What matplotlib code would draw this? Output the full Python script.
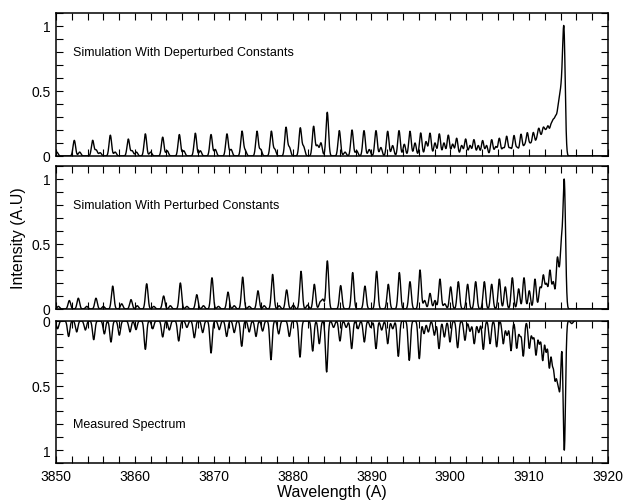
import numpy as np
import matplotlib
matplotlib.use('Agg')
import matplotlib.pyplot as plt
from matplotlib.ticker import MultipleLocator

plt.rcParams['font.family'] = ['Liberation Sans', 'DejaVu Sans']

# line positions (A) and peak heights
depert_pos = [3850.1, 3852.32, 3853.0, 3854.65, 3855.1, 3855.6, 3856.89, 3857.5, 3859.17, 3859.65,
              3860.2, 3861.33, 3862.0, 3863.53, 3864.1, 3865.64, 3866.2, 3867.67, 3868.3, 3869.66,
              3870.2, 3871.68, 3872.2, 3873.59, 3874.0, 3875.49, 3875.95, 3877.31, 3877.75, 3879.17,
              3879.6, 3880.98, 3881.4, 3882.67, 3883.15, 3883.6, 3884.40, 3885.93, 3886.65, 3887.54,
              3888.13, 3889.06, 3889.73, 3890.58, 3891.2, 3892.06, 3892.69, 3893.50, 3894.17, 3894.89,
              3895.53, 3896.25, 3896.92, 3897.43, 3898.06, 3898.61, 3899.2, 3899.75, 3900.3, 3900.81,
              3901.44, 3901.95, 3902.5, 3903.00, 3903.55, 3904.10, 3904.6, 3905.25, 3905.76, 3906.22,
              3906.7, 3907.15, 3907.6, 3908.08, 3908.5, 3908.97, 3909.4, 3909.77, 3910.15, 3910.53,
              3910.9, 3911.21, 3911.5, 3911.80, 3912.1, 3912.4, 3912.75, 3913.05, 3913.35, 3913.65,
              3913.9, 3914.15, 3914.42]
depert_amp = [0.03, 0.12, 0.03, 0.12, 0.045, 0.025, 0.16, 0.03, 0.13, 0.04,
              0.03, 0.17, 0.03, 0.145, 0.04, 0.165, 0.04, 0.175, 0.04, 0.165,
              0.05, 0.17, 0.05, 0.19, 0.04, 0.19, 0.05, 0.19, 0.05, 0.22,
              0.065, 0.215, 0.07, 0.228, 0.08, 0.1, 0.336, 0.195, 0.03, 0.2,
              0.04, 0.195, 0.05, 0.195, 0.065, 0.19, 0.08, 0.195, 0.09, 0.19,
              0.1, 0.177, 0.11, 0.175, 0.1, 0.17, 0.1, 0.16, 0.09, 0.136,
              0.08, 0.13, 0.08, 0.125, 0.08, 0.118, 0.08, 0.125, 0.07, 0.135,
              0.06, 0.15, 0.06, 0.155, 0.06, 0.165, 0.07, 0.17, 0.08, 0.17,
              0.09, 0.18, 0.1, 0.18, 0.14, 0.19, 0.19, 0.21, 0.23, 0.25,
              0.3, 0.36, 0.9]

pert_pos = [3850.3, 3851.69, 3852.83, 3853.9, 3855.07, 3856.0, 3857.19, 3858.33, 3859.51, 3860.3,
            3861.50, 3862.4, 3863.65, 3864.5, 3865.77, 3866.6, 3867.85, 3868.7, 3869.78, 3870.6,
            3871.81, 3872.6, 3873.67, 3874.5, 3875.61, 3876.4, 3877.47, 3878.3, 3879.25, 3880.1,
            3881.07, 3881.9, 3882.76, 3883.5, 3883.85, 3884.41, 3886.10, 3887.62, 3889.18, 3890.66,
            3892.14, 3893.54, 3894.89, 3896.16, 3896.75, 3897.43, 3898.06, 3898.69, 3899.3, 3900.05,
            3901.02, 3902.20, 3903.22, 3904.32, 3905.25, 3906.22, 3906.98, 3907.87, 3908.67, 3909.35,
            3910.02, 3910.74, 3911.38, 3911.80, 3912.2, 3912.64, 3913.07, 3913.57, 3913.83, 3914.10,
            3914.46]
pert_amp = [0.02, 0.065, 0.083, 0.02, 0.083, 0.02, 0.176, 0.04, 0.072, 0.025,
            0.194, 0.02, 0.10, 0.025, 0.20, 0.02, 0.11, 0.025, 0.24, 0.02,
            0.13, 0.025, 0.245, 0.02, 0.14, 0.025, 0.266, 0.025, 0.147, 0.03,
            0.29, 0.03, 0.19, 0.05, 0.07, 0.37, 0.18, 0.28, 0.176, 0.29,
            0.19, 0.28, 0.21, 0.30, 0.065, 0.12, 0.065, 0.23, 0.04, 0.17,
            0.21, 0.19, 0.21, 0.21, 0.19, 0.23, 0.17, 0.24, 0.155, 0.24,
            0.14, 0.23, 0.16, 0.25, 0.18, 0.29, 0.2, 0.36, 0.12, 0.45,
            0.96]

meas_pos = [3850.2, 3851.6, 3852.62, 3853.72, 3854.78, 3856.13, 3856.97, 3858.03, 3859.38, 3860.14,
            3861.33, 3862.26, 3863.53, 3864.37, 3865.56, 3866.6, 3867.54, 3868.6, 3869.66, 3870.7,
            3871.64, 3872.6, 3873.55, 3874.5, 3875.36, 3876.2, 3877.26, 3878.24, 3879.59, 3880.94,
            3882.55, 3883.39, 3884.32, 3885.2, 3886.01, 3886.8, 3887.49, 3888.3, 3889.10, 3889.9,
            3890.58, 3891.3, 3892.06, 3892.7, 3893.41, 3894.80, 3896.07, 3896.67, 3897.22, 3897.98,
            3898.57, 3899.25, 3899.96, 3900.93, 3901.86, 3902.5, 3903.04, 3903.6, 3904.19, 3905.04,
            3905.88, 3906.72, 3907.20, 3907.70, 3908.42, 3908.85, 3909.26, 3910.02, 3910.45, 3910.87,
            3911.3, 3911.72, 3912.15, 3912.56, 3912.95, 3913.28, 3913.6, 3913.9, 3914.46, 3915.4]
meas_amp = [0.06, 0.12, 0.085, 0.07, 0.145, 0.10, 0.163, 0.11, 0.085, 0.067,
            0.22, 0.06, 0.124, 0.07, 0.155, 0.05, 0.13, 0.09, 0.248, 0.067,
            0.12, 0.09, 0.196, 0.085, 0.12, 0.078, 0.30, 0.1, 0.12, 0.28,
            0.233, 0.176, 0.395, 0.05, 0.155, 0.05, 0.214, 0.06, 0.163, 0.05,
            0.214, 0.07, 0.176, 0.06, 0.274, 0.305, 0.292, 0.098, 0.085, 0.11,
            0.214, 0.124, 0.163, 0.207, 0.15, 0.08, 0.176, 0.09, 0.22, 0.176,
            0.2, 0.176, 0.11, 0.23, 0.21, 0.11, 0.27, 0.21, 0.13, 0.26,
            0.17, 0.3, 0.23, 0.35, 0.3, 0.4, 0.38, 0.48, 1.0, 0.02]


def spectrum(wl, pos, amp, w):
    out = np.zeros_like(wl)
    for p, a in zip(pos, amp):
        out += a * np.exp(-0.5 * ((wl - p) / w) ** 2)
    return out


wl_sim = np.arange(3850, 3920.001, 0.02)
wl_meas = np.arange(3850, 3915.8, 0.02)
y_dep = spectrum(wl_sim, depert_pos, depert_amp, 0.16)
y_per = spectrum(wl_sim, pert_pos, pert_amp, 0.16)
y_meas = spectrum(wl_meas, meas_pos, meas_amp, 0.15)

fig = plt.figure(figsize=(6.23, 5.02), dpi=100)
ax1 = fig.add_axes([0.0899, 0.6873, 0.886, 0.2849])
ax2 = fig.add_axes([0.0899, 0.3825, 0.886, 0.2849])
ax3 = fig.add_axes([0.0899, 0.0757, 0.886, 0.2829])

ax1.plot(wl_sim, y_dep, color='black', lw=1.0)
ax2.plot(wl_sim, y_per, color='black', lw=1.0)
ax3.plot(wl_meas, y_meas, color='black', lw=1.0)

ax1.set_ylim(0, 1.1)
ax2.set_ylim(0, 1.1)
ax3.set_ylim(1.1, 0)

labels = ['Simulation With Deperturbed Constants', 'Simulation With Perturbed Constants',
          'Measured Spectrum']
for ax, txt in zip([ax1, ax2, ax3], labels):
    ax.set_xlim(3850, 3920)
    ax.xaxis.set_major_locator(MultipleLocator(10))
    ax.xaxis.set_minor_locator(MultipleLocator(2))
    ax.yaxis.set_major_locator(MultipleLocator(0.5))
    ax.yaxis.set_minor_locator(MultipleLocator(0.1))
    ax.set_yticks([0, 0.5, 1])
    ax.set_yticklabels(['0', '0.5', '1'])
    ax.tick_params(which='both', direction='in', top=True, right=True, length=5, width=0.8,
                   labelsize=10, pad=4)
    for s in ax.spines.values():
        s.set_linewidth(1.1)
    ax.text(3852.1, 0.8, txt, fontsize=9, va='center', ha='left')

ax1.tick_params(labelbottom=False)
ax2.tick_params(labelbottom=False)
ax3.set_xlabel('Wavelength (A)', fontsize=11.5, labelpad=1)
fig.text(0.029, 0.525, 'Intensity (A.U)', rotation=90, fontsize=11.5, va='center', ha='center')

fig.savefig('out.png', dpi=100)
